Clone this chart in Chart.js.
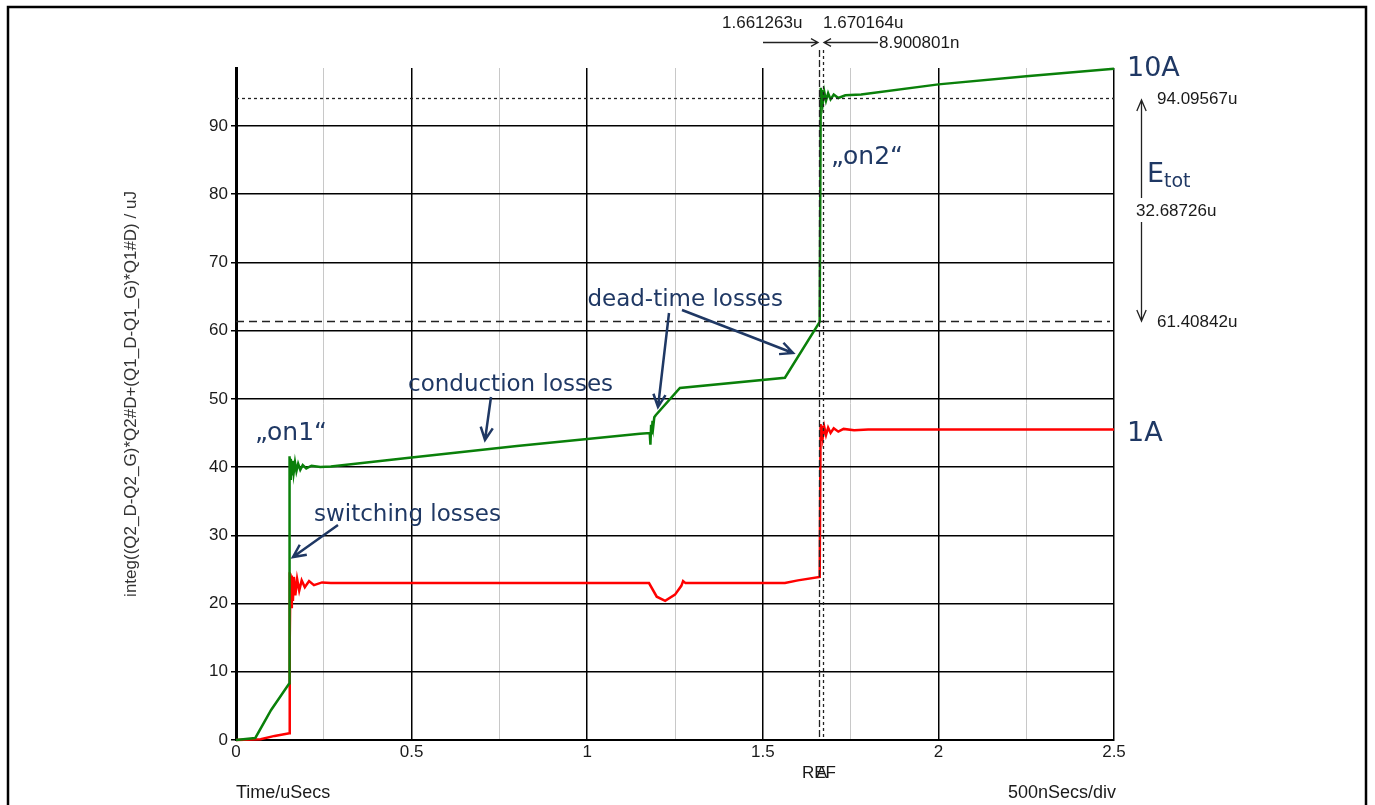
<!DOCTYPE html>
<html>
<head>
<meta charset="utf-8">
<title>Etot</title>
<script src="https://cdn.jsdelivr.net/npm/chart.js@4.4.1/dist/chart.umd.min.js"></script>
<style>
    html, body { margin: 0; padding: 0; background: #fff; }
    #wrap { width: 1375px; height: 805px; }
</style>
</head>
<body>
<div id="wrap"><canvas id="chart" width="1375" height="805"></canvas></div>
<script>
// ================= DATA =================
const xLabels = [0, 0.5, 1, 1.5, 2, 2.5];
const xGrid = [0, 0.25, 0.5, 0.75, 1, 1.25, 1.5, 1.75, 2, 2.25, 2.5];
const yTicks = [0, 10, 20, 30, 40, 50, 60, 70, 80, 90];

// 10A (green)
const tGreen = [0, 0.055, 0.1, 0.152,
    0.1525, 0.154, 0.156, 0.158, 0.161, 0.164, 0.168, 0.172, 0.177, 0.183, 0.19, 0.2, 0.215, 0.24,
    0.27, 0.5, 0.8, 1.15,
    1.178, 1.18, 1.182, 1.184, 1.186, 1.188, 1.191, 1.195,
    1.264, 1.563, 1.662,
    1.665, 1.6665, 1.668, 1.671, 1.675, 1.68, 1.686, 1.693, 1.702, 1.715, 1.735,
    1.78, 2.0, 2.25, 2.5];
const eGreen = [0, 0.3, 4.4, 8.3,
    41.6, 38.3, 41.2, 38.8, 40.9, 39.1, 40.7, 39.4, 40.5, 39.6, 40.3, 39.8, 40.2, 40.0,
    40.1, 41.4, 43.1, 44.9,
    45.0, 43.3, 46.2, 44.8, 46.8, 45.9, 47.3, 47.6,
    51.6, 53.1, 61.3,
    95.6, 93.0, 95.3, 93.4, 95.0, 93.7, 94.8, 93.9, 94.6, 94.1, 94.5,
    94.6, 96.1, 97.3, 98.4];

// 1A (red)
const tRed = [0, 0.07, 0.11, 0.152,
    0.1525, 0.1535, 0.155, 0.157, 0.159, 0.162, 0.165, 0.169, 0.174, 0.18, 0.187, 0.196, 0.208, 0.222, 0.245, 0.27,
    1.176, 1.198, 1.222, 1.25, 1.268, 1.273, 1.28,
    1.563, 1.6, 1.662,
    1.6645, 1.666, 1.668, 1.671, 1.675, 1.68, 1.686, 1.693, 1.702, 1.715, 1.73, 1.76, 1.8, 2.5];
const eRed = [0, 0.1, 0.6, 1.0,
    24.6, 14.7, 24.4, 19.5, 24.1, 20.4, 23.9, 21.2, 23.6, 21.9, 23.4, 22.4, 23.3, 22.7, 23.1, 23.0,
    23.0, 21.0, 20.4, 21.3, 22.6, 23.3, 23.0,
    23.0, 23.4, 23.9,
    46.3, 44.0, 46.1, 44.4, 45.9, 44.7, 45.8, 45.0, 45.7, 45.2, 45.6, 45.4, 45.5, 45.5];

// cursors
const cursorT = [1.661263, 1.670164];
const cursorE = [61.40842, 94.09567];
const cursorText = ["1.661263u", "1.670164u", "8.900801n"];
const energyText = ["94.09567u", "32.68726u", "61.40842u"];

// ================= STYLE =================
const NAVY = "#1f3864";
const TXT = "#1a1a1a";
const ARIAL = "'Liberation Sans', Arial, sans-serif";
const VERD = "'DejaVu Sans', Verdana, sans-serif";

const pts = (t, e) => t.map((x, i) => ({ x: x, y: e[i] }));

function arrow(ctx, x1, y1, x2, y2, head, spread) {
    const a = Math.atan2(y2 - y1, x2 - x1);
    ctx.beginPath();
    ctx.moveTo(x1, y1);
    ctx.lineTo(x2, y2);
    ctx.moveTo(x2 - head * Math.cos(a - spread), y2 - head * Math.sin(a - spread));
    ctx.lineTo(x2, y2);
    ctx.lineTo(x2 - head * Math.cos(a + spread), y2 - head * Math.sin(a + spread));
    ctx.stroke();
}

// ================= ANNOTATIONS =================
const annotations = {
    id: "annotations",
    afterDatasetsDraw(chart) {
        const ctx = chart.ctx;
        const x = chart.scales.x, y = chart.scales.y, area = chart.chartArea;
        ctx.save();
        ctx.strokeStyle = "#222";
        ctx.lineWidth = 1.3;
        // cursor lines
        const dashes = [[7, 3], [3, 3]];
        cursorT.forEach((t, i) => {
            const px = Math.round(x.getPixelForValue(t)) + 0.5;
            ctx.setLineDash(dashes[i]);
            ctx.beginPath();
            ctx.moveTo(px, 50);
            ctx.lineTo(px, area.bottom);
            ctx.stroke();
        });
        const hDash = [[8, 5], [3, 3]];
        cursorE.forEach((e, i) => {
            const py = Math.round(y.getPixelForValue(e)) + 0.5;
            ctx.setLineDash(hDash[i]);
            ctx.beginPath();
            ctx.moveTo(area.left, py);
            ctx.lineTo(area.right - (i === 0 ? 4 : 0), py);
            ctx.stroke();
        });
        ctx.restore();
    },
    afterDraw(chart) {
        const ctx = chart.ctx;
        ctx.save();

        // outer frame
        ctx.strokeStyle = "#000";
        ctx.lineWidth = 2.5;
        ctx.strokeRect(8, 7, 1358, 820);

        // y-axis title
        ctx.save();
        ctx.translate(131, 394);
        ctx.rotate(-Math.PI / 2);
        ctx.font = "17px " + ARIAL;
        ctx.fillStyle = "#333";
        ctx.textAlign = "center";
        ctx.textBaseline = "middle";
        ctx.fillText("integ((Q2_D-Q2_G)*Q2#D+(Q1_D-Q1_G)*Q1#D) / uJ", 0, 0);
        ctx.restore();

        // bottom texts
        ctx.font = "18px " + ARIAL;
        ctx.fillStyle = TXT;
        ctx.textBaseline = "middle";
        ctx.textAlign = "right";
        ctx.fillText("500nSecs/div", 1116, 793);
        ctx.textAlign = "left";
        ctx.font = "17px " + ARIAL;
        ctx.fillText("REF", 802, 773);
        ctx.fillText("A", 816, 773);

        // top cursor readout
        ctx.fillText(cursorText[0], 722, 23);
        ctx.fillText(cursorText[1], 823, 23);
        ctx.fillText(cursorText[2], 879, 43);
        ctx.strokeStyle = "#222";
        ctx.lineWidth = 1.3;
        arrow(ctx, 763, 42.5, 818, 42.5, 8, 0.5);
        arrow(ctx, 878, 42.5, 824, 42.5, 8, 0.5);

        // right readout
        ctx.fillText(energyText[0], 1157, 99);
        ctx.fillText(energyText[1], 1136, 211);
        ctx.fillText(energyText[2], 1157, 322);
        arrow(ctx, 1141.5, 198, 1141.5, 100, 12, 0.4);
        arrow(ctx, 1141.5, 222, 1141.5, 321, 12, 0.4);

        // series names and E_tot
        ctx.fillStyle = NAVY;
        ctx.textBaseline = "alphabetic";
        ctx.font = "27px " + VERD;
        ctx.fillText("10A", 1127, 76);
        ctx.fillText("1A", 1127, 441);
        ctx.fillText("E", 1147, 182);
        ctx.font = "19px " + VERD;
        ctx.fillText("tot", 1164, 187);

        // callouts
        ctx.font = "25px " + VERD;
        ctx.fillText("\u201Eon1\u201C", 255, 440);
        ctx.fillText("\u201Eon2\u201C", 831, 164);
        ctx.font = "23px " + VERD;
        ctx.fillText("switching losses", 314, 521);
        ctx.fillText("conduction losses", 408, 391);
        ctx.textAlign = "right";
        ctx.fillText("dead-time losses", 783, 306);

        ctx.strokeStyle = NAVY;
        ctx.lineWidth = 2.5;
        arrow(ctx, 338, 525, 293, 557, 14, 0.45);
        arrow(ctx, 491, 397, 485, 440, 14, 0.45);
        arrow(ctx, 669, 313, 658, 407, 14, 0.45);
        arrow(ctx, 682, 310, 793, 353, 14, 0.45);

        ctx.restore();
    }
};

// ================= CHART =================
new Chart(document.getElementById("chart"), {
    type: "line",
    data: {
        datasets: [{
            label: "10A",
            data: pts(tGreen, eGreen),
            borderColor: "#0a800a",
            borderWidth: 2.5,
            pointRadius: 0,
            tension: 0,
            clip: 4
        }, {
            label: "1A",
            data: pts(tRed, eRed),
            borderColor: "#ff0000",
            borderWidth: 2.5,
            pointRadius: 0,
            tension: 0,
            clip: 4
        }]
    },
    options: {
        responsive: false,
        animation: false,
        layout: { padding: { left: 0, top: 68, right: 261, bottom: 0 } },
        plugins: {
            legend: { display: false },
            tooltip: { enabled: false }
        },
        scales: {
            x: {
                type: "linear",
                min: 0,
                max: 2.5,
                afterBuildTicks: s => { s.ticks = xGrid.map(v => ({ value: v })); },
                afterFit: s => { s.height = 65; },
                ticks: {
                    autoSkip: false,
                    maxRotation: 0,
                    padding: 2,
                    color: TXT,
                    font: { family: ARIAL, size: 17 },
                    callback: v => xLabels.includes(v) ? String(v) : ""
                },
                grid: {
                    drawTicks: false,
                    color: c => xLabels.includes(c.tick.value) ? "#000" : "#c8c8c8",
                    lineWidth: c => xLabels.includes(c.tick.value) ? 1.5 : 1
                },
                border: { color: "#000", width: 2 },
                title: {
                    display: true,
                    text: "Time/uSecs",
                    align: "start",
                    color: TXT,
                    font: { family: ARIAL, size: 18 },
                    padding: { top: 0, bottom: 1 }
                }
            },
            y: {
                min: 0,
                max: 98.5,
                afterBuildTicks: s => { s.ticks = yTicks.map(v => ({ value: v })); },
                afterFit: s => { s.width = 236; },
                ticks: {
                    padding: 3,
                    color: TXT,
                    font: { family: ARIAL, size: 17 }
                },
                grid: { tickLength: 5, color: "#000", lineWidth: 1.5 },
                border: { color: "#000", width: 3 }
            }
        }
    },
    plugins: [annotations]
});
</script>
</body>
</html>
